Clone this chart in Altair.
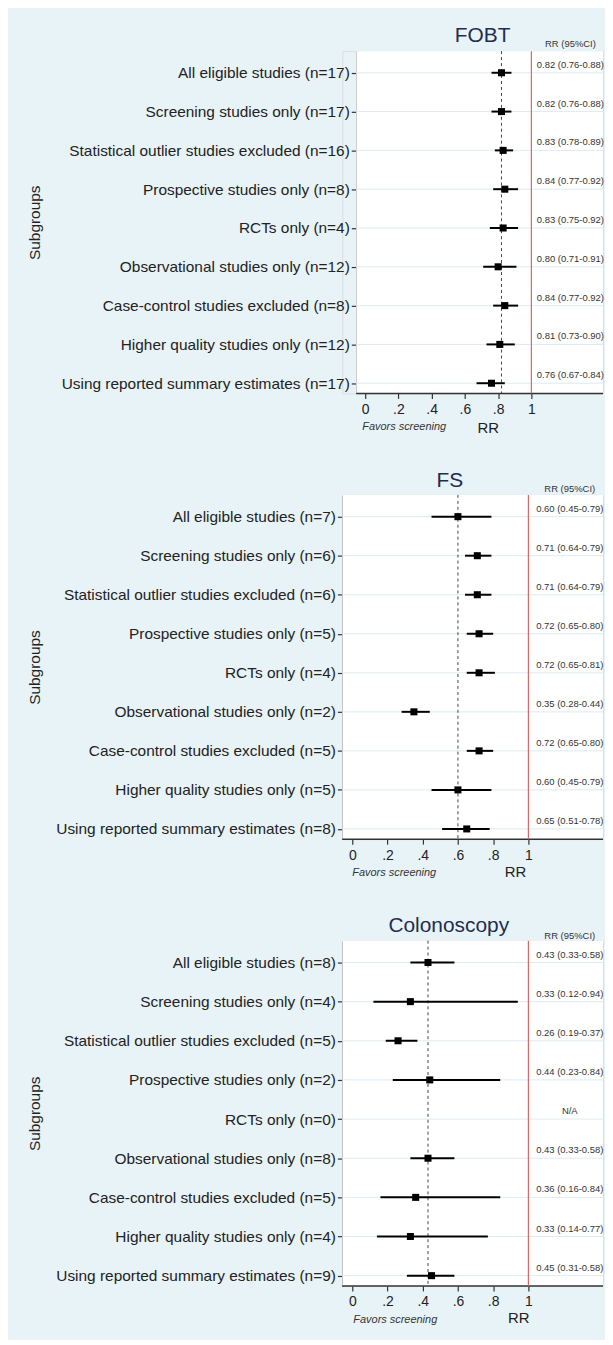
import altair as alt
import pandas as pd

BG = '#e8f3f8'
FONT = 'Liberation Sans'
INK = '#222222'

TICKS = [0, 0.2, 0.4, 0.6, 0.8, 1]

fobt_labels = [
    'All eligible studies (n=17)',
    'Screening studies only (n=17)',
    'Statistical outlier studies excluded (n=16)',
    'Prospective studies only (n=8)',
    'RCTs only (n=4)',
    'Observational studies only (n=12)',
    'Case-control studies excluded (n=8)',
    'Higher quality studies only (n=12)',
    'Using reported summary estimates (n=17)',
]
fobt_rr = [0.82, 0.82, 0.83, 0.84, 0.83, 0.80, 0.84, 0.81, 0.76]
fobt_lo = [0.76, 0.76, 0.78, 0.77, 0.75, 0.71, 0.77, 0.73, 0.67]
fobt_hi = [0.88, 0.88, 0.89, 0.92, 0.92, 0.91, 0.92, 0.90, 0.84]
fobt_txt = ['0.82 (0.76-0.88)', '0.82 (0.76-0.88)', '0.83 (0.78-0.89)', '0.84 (0.77-0.92)',
            '0.83 (0.75-0.92)', '0.80 (0.71-0.91)', '0.84 (0.77-0.92)', '0.81 (0.73-0.90)',
            '0.76 (0.67-0.84)']

fs_labels = [
    'All eligible studies (n=7)',
    'Screening studies only (n=6)',
    'Statistical outlier studies excluded (n=6)',
    'Prospective studies only (n=5)',
    'RCTs only (n=4)',
    'Observational studies only (n=2)',
    'Case-control studies excluded (n=5)',
    'Higher quality studies only (n=5)',
    'Using reported summary estimates (n=8)',
]
fs_rr = [0.60, 0.71, 0.71, 0.72, 0.72, 0.35, 0.72, 0.60, 0.65]
fs_lo = [0.45, 0.64, 0.64, 0.65, 0.65, 0.28, 0.65, 0.45, 0.51]
fs_hi = [0.79, 0.79, 0.79, 0.80, 0.81, 0.44, 0.80, 0.79, 0.78]
fs_txt = ['0.60 (0.45-0.79)', '0.71 (0.64-0.79)', '0.71 (0.64-0.79)', '0.72 (0.65-0.80)',
          '0.72 (0.65-0.81)', '0.35 (0.28-0.44)', '0.72 (0.65-0.80)', '0.60 (0.45-0.79)',
          '0.65 (0.51-0.78)']

col_labels = [
    'All eligible studies (n=8)',
    'Screening studies only (n=4)',
    'Statistical outlier studies excluded (n=5)',
    'Prospective studies only (n=2)',
    'RCTs only (n=0)',
    'Observational studies only (n=8)',
    'Case-control studies excluded (n=5)',
    'Higher quality studies only (n=4)',
    'Using reported summary estimates (n=9)',
]
col_rr = [0.43, 0.33, 0.26, 0.44, None, 0.43, 0.36, 0.33, 0.45]
col_lo = [0.33, 0.12, 0.19, 0.23, None, 0.33, 0.16, 0.14, 0.31]
col_hi = [0.58, 0.94, 0.37, 0.84, None, 0.58, 0.84, 0.77, 0.58]
col_txt = ['0.43 (0.33-0.58)', '0.33 (0.12-0.94)', '0.26 (0.19-0.37)', '0.44 (0.23-0.84)',
           'N/A', '0.43 (0.33-0.58)', '0.36 (0.16-0.84)', '0.33 (0.14-0.77)',
           '0.45 (0.31-0.58)']

WIDTH = 262

geoms = {
    'FOBT': dict(H=344, xmin=-0.1377, xmax=1.431, vis=-0.0539, off=-14, tx=-323,
                 ttl_x=0.707, ttl_y=-15, fav_x=-0.018, rr_x=0.74, rr_y=35, hdr_y=-7),
    'FS': dict(H=346, xmin=-0.0565, xmax=1.4237, vis=-0.0565, off=0, tx=-309,
               ttl_x=0.554, ttl_y=-14, fav_x=0.0, rr_x=0.927, rr_y=33, hdr_y=-6),
    'Colonoscopy': dict(H=347, xmin=-0.0565, xmax=1.4237, vis=-0.0565, off=0, tx=-309,
                        ttl_x=0.548, ttl_y=-15, fav_x=0.006, rr_x=0.945, rr_y=32, hdr_y=-5),
}


def panel(title, labels, rr, lo, hi, txt):
    g = geoms[title]
    H = g['H']
    df = pd.DataFrame({'label': labels, 'rr': rr, 'lo': lo, 'hi': hi, 'txt': txt})
    one = pd.DataFrame({'k': [0]})

    xs = alt.Scale(domain=[g['xmin'], g['xmax']], nice=False, zero=False)
    xa = alt.Axis(values=TICKS,
                  labelExpr="datum.value == 0 ? '0' : datum.value == 1 ? '1' : replace(format(datum.value, '.1f'), '0.', '.')",
                  title=None, grid=False, domain=False, tickSize=5, tickColor='#333333',
                  tickWidth=1.2, labelFontSize=14, labelColor=INK, labelFont=FONT,
                  labelPadding=4)
    ys = alt.Scale(type='point', domain=labels, padding=0.41, align=0.68)
    ya = alt.Axis(title='Subgroups', titleFontSize=15.5, titleFontWeight='normal',
                  titleColor=INK, titleFont=FONT, titleX=g['tx'], titleBaseline='middle',
                  labelFontSize=15.5, labelColor=INK, labelFont=FONT, labelLimit=400,
                  labelPadding=2, tickSize=5, tickColor='#333333', tickWidth=1.2,
                  domainColor='#333333', domainWidth=1.5, offset=g['off'], grid=False)

    def X(v):
        return alt.XDatum(v, type='quantitative', scale=xs, axis=xa)

    def X2(v):
        return alt.X2Datum(v)

    Y = alt.Y('label:N', scale=ys, axis=ya)

    white = alt.Chart(one).mark_rect(color='white').encode(
        x=X(g['vis']), x2=X2(g['xmax']), y=alt.value(0), y2=alt.value(H))
    grid = alt.Chart(df).mark_rule(color='#dcebf2', strokeWidth=1).encode(
        x=X(g['vis']), x2=X2(g['xmax']), y=Y)
    base_line = alt.Chart(one).mark_rule(color='#333333', strokeWidth=1.5).encode(
        x=X(g['vis']), x2=X2(g['xmax']), y=alt.value(H))
    red = alt.Chart(one).mark_rule(color='#e06464', strokeWidth=1.2).encode(x=X(1))
    dash = alt.Chart(one).mark_rule(color='#444444', strokeWidth=1, strokeDash=[3, 3]).encode(
        x=X(rr[0]))
    ci = alt.Chart(df).mark_rule(color='black', strokeWidth=2).encode(
        x=alt.X('lo:Q', scale=xs, axis=xa), x2='hi:Q', y=Y)
    pts = alt.Chart(df).mark_square(size=50, color='black', opacity=1, filled=True).encode(
        x=alt.X('rr:Q', scale=xs, axis=xa), y=Y)
    vals = alt.Chart(df).mark_text(fontSize=9.5, font=FONT, color='#333333', align='center',
                                   baseline='middle', dy=-8).encode(
        x=X(1.235), y=Y, text='txt:N')
    hdr = alt.Chart(one).mark_text(fontSize=9.5, font=FONT, color='#333333', align='center',
                                   baseline='middle').encode(
        x=X(1.235), y=alt.value(g['hdr_y']), text=alt.value('RR (95%CI)'))
    ttl = alt.Chart(one).mark_text(fontSize=21, font=FONT, color='#1f2d4f', align='center',
                                   baseline='middle').encode(
        x=X(g['ttl_x']), y=alt.value(g['ttl_y']), text=alt.value(title))
    fav = alt.Chart(one).mark_text(fontSize=11, font=FONT, fontStyle='italic', color='#333333',
                                   align='left', baseline='middle').encode(
        x=X(g['fav_x']), y=alt.value(H + 34), text=alt.value('Favors screening'))
    rrl = alt.Chart(one).mark_text(fontSize=15, font=FONT, color=INK, align='center',
                                   baseline='middle').encode(
        x=X(g['rr_x']), y=alt.value(H + g['rr_y']), text=alt.value('RR'))

    return alt.layer(white, grid, base_line, red, dash, ci, pts, vals, hdr, ttl, fav, rrl).properties(
        width=WIDTH, height=H)


p1 = panel('FOBT', fobt_labels, fobt_rr, fobt_lo, fobt_hi, fobt_txt)
p2 = panel('FS', fs_labels, fs_rr, fs_lo, fs_hi, fs_txt)
p3 = panel('Colonoscopy', col_labels, col_rr, col_lo, col_hi, col_txt)

chart = alt.vconcat(p1, p2, p3, spacing=102, bounds='flush').properties(
    background=BG,
    padding={'left': 19, 'top': 13, 'right': 0, 'bottom': 10},
).configure_view(stroke=None).configure(font=FONT)

chart.save('out.html', embed_options={'renderer': 'svg', 'actions': False})
